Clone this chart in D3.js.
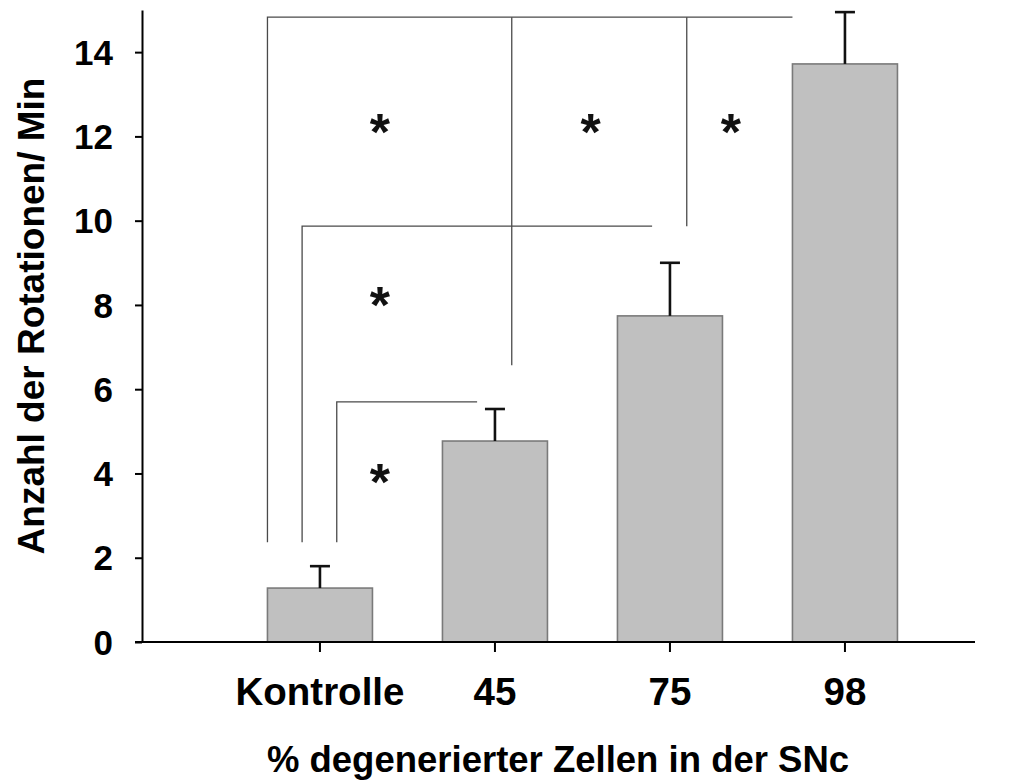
<!DOCTYPE html>
<html>
<head>
<meta charset="utf-8">
<script src="https://cdn.jsdelivr.net/npm/d3@7"></script>
<style>
  html, body { margin: 0; padding: 0; background: #fff; }
  #container { width: 1012px; height: 783px; }
</style>
</head>
<body>
<div id="container"></div>
<script>
// data
const groups = ["Kontrolle", "45", "75", "98"];
const means = [1.28, 4.77, 7.74, 13.72];
const errors = [0.52, 0.76, 1.26, 1.23];
const yTicks = [0, 2, 4, 6, 8, 10, 12, 14];

// significance brackets: [group, fraction of bar width], y level, drop ends
const bracketFrom = [["Kontrolle", 0], ["Kontrolle", 0.33], ["Kontrolle", 0.66]];
const bracketTo = [["98", 0], ["75", 0.33], ["45", 0.33]];
const bracketLevel = [14.83, 9.87, 5.70];
const bracketDrop = [2.37, 2.37, 2.37];
// extra legs hanging from the top bracket
const legAt = [["45", 0.66], ["75", 0.66]];
const legDrop = [6.57, 9.87];
// stars
const starAt = [["Kontrolle", 1.07], ["45", 1.41], ["75", 1.08], ["Kontrolle", 1.07], ["Kontrolle", 1.07]];
const starLevel = [12.27, 12.27, 12.27, 8.17, 3.96];

const width = 1012, height = 783;
const margin = {top: 10, right: 37, bottom: 141, left: 142};
const font = "'Liberation Sans', Arial, sans-serif";

const x = d3.scaleBand()
    .domain(groups)
    .range([margin.left, width - margin.right])
    .paddingInner(0.4)
    .paddingOuter(0.58)
    .align(0.618);

const y = d3.scaleLinear()
    .domain([0, 15])
    .range([height - margin.bottom, margin.top]);

const pos = d => x(d[0]) + d[1] * x.bandwidth();

const svg = d3.select("#container").append("svg")
    .attr("width", width)
    .attr("height", height);

// bars
svg.append("g")
    .selectAll("rect")
    .data(groups)
    .join("rect")
    .attr("x", d => x(d))
    .attr("y", (d, i) => y(means[i]))
    .attr("width", x.bandwidth())
    .attr("height", (d, i) => y(0) - y(means[i]))
    .attr("fill", "#c0c0c0")
    .attr("stroke", "#7a7a7a")
    .attr("stroke-width", 1.6);

// error bars
const eb = svg.append("g").attr("stroke", "#111").attr("stroke-width", 2.6);
groups.forEach((g, i) => {
    const cx = x(g) + x.bandwidth() / 2;
    eb.append("line")
        .attr("x1", cx).attr("x2", cx)
        .attr("y1", y(means[i])).attr("y2", y(means[i] + errors[i]));
    eb.append("line")
        .attr("x1", cx - 10).attr("x2", cx + 10)
        .attr("y1", y(means[i] + errors[i])).attr("y2", y(means[i] + errors[i]));
});

// brackets
const br = svg.append("g").attr("stroke", "#4a4a4a").attr("stroke-width", 1.3).attr("fill", "none");
bracketLevel.forEach((lv, i) => {
    const x1 = pos(bracketFrom[i]), x2 = pos(bracketTo[i]);
    br.append("path")
        .attr("d", `M${x1},${y(bracketDrop[i])}V${y(lv)}H${x2}`);
});
legAt.forEach((d, i) => {
    br.append("line")
        .attr("x1", pos(d)).attr("x2", pos(d))
        .attr("y1", y(bracketLevel[0])).attr("y2", y(legDrop[i]));
});

svg.append("g")
    .selectAll("text")
    .data(starAt)
    .join("text")
    .attr("x", d => pos(d))
    .attr("y", (d, i) => y(starLevel[i]) + 25)
    .attr("text-anchor", "middle")
    .attr("font-family", font)
    .attr("font-weight", "bold")
    .attr("font-size", 52)
    .attr("fill", "#111")
    .text("*");

// y axis
const yAxis = svg.append("g")
    .attr("transform", `translate(${margin.left},0)`)
    .call(d3.axisLeft(y).tickValues(yTicks).tickSize(7).tickSizeOuter(0).tickPadding(22));
yAxis.select(".domain").attr("stroke", "#000").attr("stroke-width", 2);
yAxis.selectAll(".tick line").attr("stroke", "#000").attr("stroke-width", 2);
yAxis.selectAll("text")
    .attr("font-family", font)
    .attr("font-weight", "bold")
    .attr("font-size", 35)
    .attr("dy", "0.35em")
    .attr("fill", "#000");

// x axis
const xAxis = svg.append("g")
    .attr("transform", `translate(0,${height - margin.bottom})`)
    .call(d3.axisBottom(x).tickSize(10).tickSizeOuter(0).tickPadding(26));
xAxis.select(".domain").remove();
xAxis.append("line")
    .attr("x1", margin.left - 7).attr("x2", width - margin.right)
    .attr("stroke", "#000").attr("stroke-width", 2);
xAxis.selectAll(".tick line").attr("stroke", "#000").attr("stroke-width", 2);
xAxis.selectAll("text")
    .attr("font-family", font)
    .attr("font-weight", "bold")
    .attr("font-size", 38.5)
    .attr("fill", "#000");

// axis titles
svg.append("text")
    .attr("x", 558)
    .attr("y", 772)
    .attr("text-anchor", "middle")
    .attr("font-family", font)
    .attr("font-weight", "bold")
    .attr("font-size", 36.5)
    .text("% degenerierter Zellen in der SNc");

svg.append("text")
    .attr("transform", "translate(44,316) rotate(-90)")
    .attr("text-anchor", "middle")
    .attr("font-family", font)
    .attr("font-weight", "bold")
    .attr("font-size", 37)
    .text("Anzahl der Rotationen/ Min");
</script>
</body>
</html>
